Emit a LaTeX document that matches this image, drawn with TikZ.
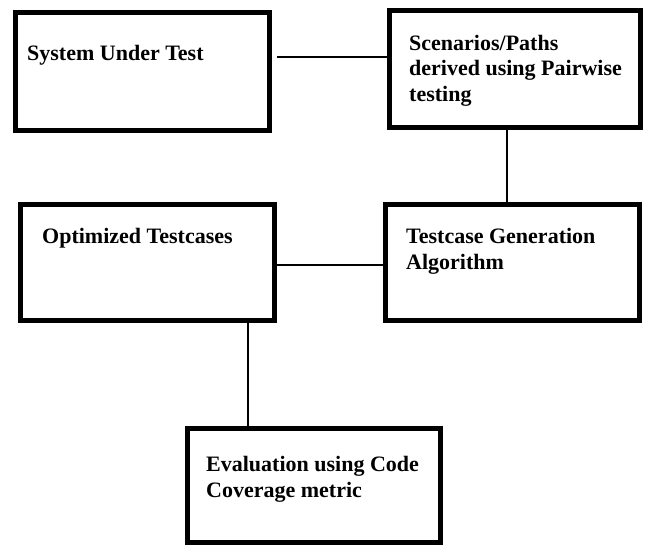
\documentclass[tikz,border=0pt]{standalone}
\usepackage{fontspec}
\setmainfont{Liberation Serif}
\usepackage{tikz}

\tikzset{
  stagebox/.style={draw, line width=5pt, inner sep=0pt, minimum width=#1},
  stagetext/.style={anchor=base west, inner sep=0pt, align=left,
    font=\bfseries\fontsize{22}{25.5}\selectfont},
  link/.style={line width=1.4pt}
}

\begin{document}
\begin{tikzpicture}[x=1pt,y=-1pt]
  \useasboundingbox (0,0) rectangle (645,546);
  % boxes
  \node[stagebox=254pt, minimum height=118pt] (sut) at (142.5,71.5) {};
  \node[stagebox=251pt, minimum height=117pt] (paths) at (515,69) {};
  \node[stagebox=254pt, minimum height=116pt] (opt) at (147.5,262.5) {};
  \node[stagebox=254pt, minimum height=116pt] (gen) at (512.5,262.5) {};
  \node[stagebox=253pt, minimum height=114pt] (eval) at (314,485.5) {};
  % labels (base = last line)
  \node[stagetext] (sutlbl) at (27,60) {System Under Test};
  \node[stagetext] (pathslbl) at (409,101) {Scenarios/Paths\\derived using Pairwise\\testing};
  \node[stagetext] (optlbl) at (42,243) {Optimized Testcases};
  \node[stagetext] (genlbl) at (406,269) {Testcase Generation\\Algorithm};
  \node[stagetext] (evallbl) at (206,497) {Evaluation using Code\\Coverage metric};
  % links
  \draw[link, shorten <=5pt] ([yshift=14.5pt]sut.east) -- ([yshift=12pt]paths.west);
  \draw[link] ([xshift=-8pt]paths.south) -- ([xshift=-5.5pt]gen.north);
  \draw[link] ([yshift=-2.5pt]opt.east) -- ([yshift=-2.5pt]gen.west);
  \draw[link] ([xshift=100.5pt]opt.south) -- ([xshift=-66pt]eval.north);
\end{tikzpicture}
\end{document}
